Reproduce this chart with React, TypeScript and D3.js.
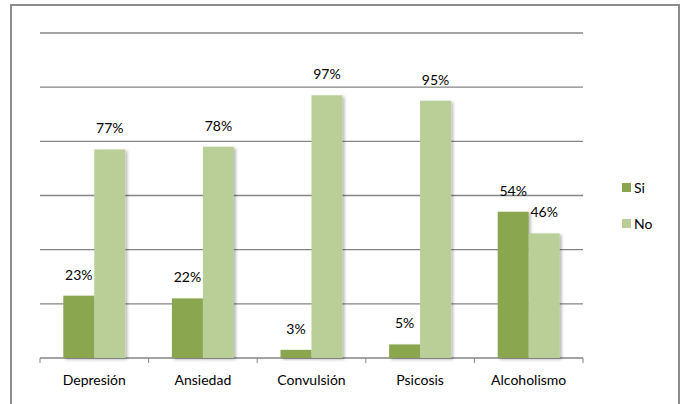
import React from "react";
import * as d3 from "d3";

const categories = ["Depresión", "Ansiedad", "Convulsión", "Psicosis", "Alcoholismo"];
const seriesNames = ["Si", "No"];
const siValues = [23, 22, 3, 5, 54];
const noValues = [77, 78, 97, 95, 46];
const yTicks = [0, 20, 40, 60, 80, 100, 120];
const colors = ["#8aa650", "#b9cf97"];

const W = 682;
const H = 404;
const plot = { left: 40, right: 583, top: 33, bottom: 358 };
const font = "Lato, 'Open Sans', sans-serif";

export default function App() {
  const x0 = d3
    .scaleBand<string>()
    .domain(categories)
    .range([plot.left, plot.right])
    .paddingInner(0)
    .paddingOuter(0);
  const groupW = 62;
  const x1 = d3
    .scaleBand<string>()
    .domain(seriesNames)
    .range([(x0.bandwidth() - groupW) / 2, (x0.bandwidth() + groupW) / 2]);
  const y = d3.scaleLinear().domain([0, 120]).range([plot.bottom, plot.top]);
  const series = [siValues, noValues];

  return (
    <svg
      width={W}
      height={H}
      style={{ position: "absolute", left: 0, top: 0, background: "#fff" }}
    >
      <defs>
        <filter id="barShadow" x="-20%" y="-20%" width="150%" height="150%">
          <feDropShadow dx="2" dy="1.5" stdDeviation="1.4" floodColor="#000" floodOpacity="0.28" />
        </filter>
      </defs>
      {/* outer chart frame */}
      <rect x={11} y={5} width={668} height={410} fill="#fff" stroke="#8c8c8c" strokeWidth={2} />

      {/* horizontal gridlines */}
      {yTicks.map((t) => (
        <line
          key={t}
          x1={plot.left}
          x2={plot.right}
          y1={y(t)}
          y2={y(t)}
          stroke="#858585"
          strokeWidth={1.4}
        />
      ))}

      {/* category tick marks */}
      {categories.map((c) => (
        <line
          key={c}
          x1={x0(c)!}
          x2={x0(c)!}
          y1={plot.bottom}
          y2={plot.bottom + 5}
          stroke="#858585"
          strokeWidth={1}
        />
      ))}
      <line
        x1={plot.right}
        x2={plot.right}
        y1={plot.bottom}
        y2={plot.bottom + 5}
        stroke="#858585"
        strokeWidth={1}
      />

      {/* bars */}
      {categories.map((c, i) =>
        seriesNames.map((s, si) => {
          const v = series[si][i];
          const bx = x0(c)! + x1(s)!;
          return (
            <rect
              key={c + s}
              x={bx}
              y={y(v)}
              width={x1.bandwidth()}
              height={y(0) - y(v)}
              fill={colors[si]}
              filter="url(#barShadow)"
            />
          );
        })
      )}

      {/* value labels */}
      {categories.map((c, i) =>
        seriesNames.map((s, si) => {
          const v = series[si][i];
          const cx = x0(c)! + x1(s)! + x1.bandwidth() / 2;
          return (
            <text
              key={"l" + c + s}
              x={cx}
              y={y(v) - 16}
              textAnchor="middle"
              fontFamily={font}
              fontSize={14}
              fill="#000"
            >
              {v}%
            </text>
          );
        })
      )}

      {/* category labels */}
      {categories.map((c) => (
        <text
          key={"c" + c}
          x={x0(c)! + x0.bandwidth() / 2}
          y={385}
          textAnchor="middle"
          fontFamily={font}
          fontSize={14}
          fill="#000"
        >
          {c}
        </text>
      ))}

      {/* legend */}
      {seriesNames.map((s, si) => (
        <g key={"lg" + s} transform={`translate(622, ${183 + si * 36})`}>
          <rect x={0} y={0} width={9} height={9} fill={colors[si]} />
          <text x={12} y={10} fontFamily={font} fontSize={14} fill="#000">
            {s}
          </text>
        </g>
      ))}
    </svg>
  );
}
